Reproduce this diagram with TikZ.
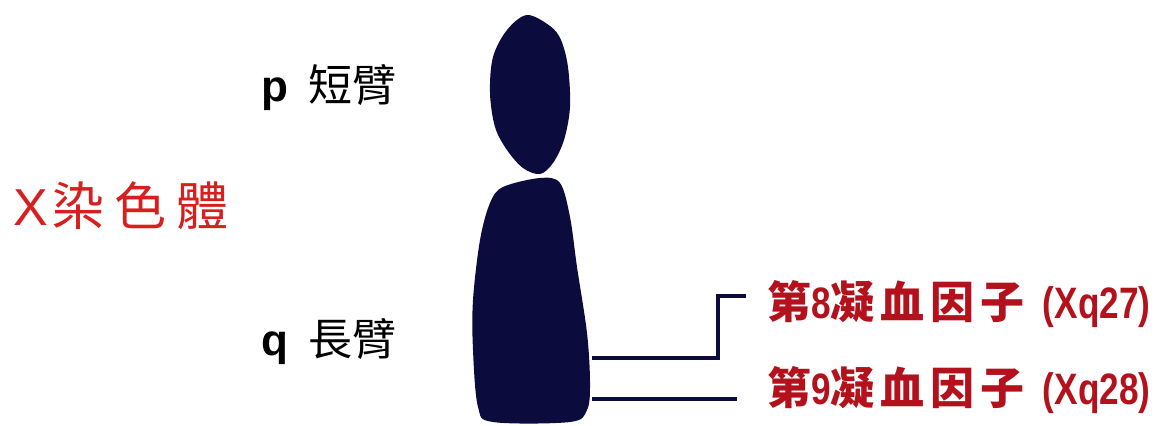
\documentclass[tikz,border=0pt]{standalone}
\usepackage{fontspec}
\setmainfont{Liberation Sans}
\newfontfamily\cjk{Noto Sans CJK TC}
\newfontfamily\narrow[FakeStretch=0.8]{Liberation Sans Bold}
\usetikzlibrary{positioning}
\definecolor{chrNavy}{HTML}{0B0B3D}
\definecolor{chrRed}{HTML}{D61F1F}
\definecolor{geneRed}{HTML}{B3121C}
\newcommand\gap{\hspace{3pt}}

\begin{document}
\begin{tikzpicture}[
    x=0.5pt, y=-0.5pt,
    arm/.style={anchor=west, inner sep=0pt, font=\fontsize{22}{22}\selectfont, text=black},
    title/.style={anchor=west, inner sep=0pt, font=\fontsize{26}{26}\selectfont, text=chrRed},
    gene/.style={anchor=west, inner sep=0pt, font=\fontsize{22}{22}\selectfont\bfseries, text=geneRed},
    link/.style={draw=chrNavy, line width=2pt},
    chrom/.style={fill=chrNavy, draw=none},
  ]
  % pixel grid, y runs downwards
  \useasboundingbox (0,0) rectangle (1166,425);

  % short arm and long arm, meeting at the centromere
  \fill[chrom] plot[smooth cycle, tension=0.55] coordinates {
    (527,15) (550,26) (561,40) (568,67) (570,107) (564,140) (553,163) (540,174)
    (523,168) (507,150) (495,127) (490,93) (493,57) (507,30)};
  \fill[chrom] plot[smooth cycle, tension=0.55] coordinates {
    (540,178) (560,183) (570,217) (577,267) (587,333) (590,383) (587,410) (570,422)
    (493,422) (478,407) (473,350) (473,300) (480,240) (490,203) (503,187)};

  \node[title] (xchr) at (13,206) {X\hspace{2pt}\cjk 染\hspace{5pt}色\hspace{5pt}體};
  \node[arm] (parm) at (261,88)  {\textbf{p}\hspace{10pt}{\cjk 短臂}};
  \node[arm] (qarm) at (261,342) {\textbf{q}\hspace{10pt}{\cjk 長臂}};

  \node[gene] (f8) at (767,304) {\cjk 第{\narrow 8}凝\gap 血\gap 因\gap 子\hspace{9pt}{\narrow (Xq27)}};
  \node[gene] (f9) at (767,390) {\cjk 第{\narrow 9}凝\gap 血\gap 因\gap 子\hspace{9pt}{\narrow (Xq28)}};

  % gene loci on the long arm
  \coordinate (f8root) at (592,358);
  \coordinate (f8bend) at (718,296);
  \coordinate (f8tip)  at (746,296);
  \coordinate (f9root) at (592,399);
  \coordinate (f9tip)  at (737,399);
  \draw[link] (f8root) -| (f8bend) -- (f8tip);
  \draw[link] (f9root) -- (f9tip);
\end{tikzpicture}
\end{document}
